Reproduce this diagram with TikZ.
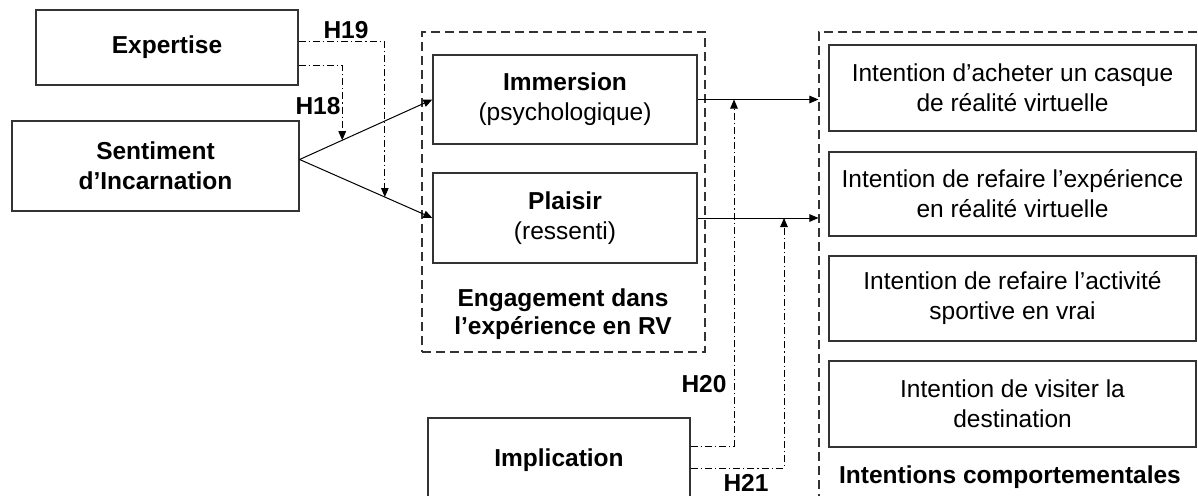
\documentclass[tikz,border=0pt]{standalone}
\usepackage{fontspec}
\setmainfont{Liberation Sans}
\usetikzlibrary{arrows.meta,calc}
\begin{document}
\begin{tikzpicture}[x=1pt,y=-1pt,
  every node/.style={font=\fontsize{24.5}{30}\selectfont, align=center, inner sep=0pt},
  box/.style={draw=black!80, line width=1.2pt, rectangle},
  grp/.style={draw=black!80, line width=1.1pt, dash pattern=on 9pt off 5pt},
  lbl/.style={font=\fontsize{24.5}{28}\selectfont\bfseries},
  link/.style={draw=black, line width=1pt, -{Triangle[length=9pt,width=7.5pt]}},
  hyp/.style={draw=black, line width=1pt, dash pattern=on 7pt off 3pt on 1.2pt off 3pt, -{Triangle[length=9pt,width=7.5pt]}}]
\useasboundingbox (0,0) rectangle (1198,495);
\clip (0,0) rectangle (1198,495);
\fill[white] (0,0) rectangle (1198,495);

% groups
\node[grp, minimum width=283pt, minimum height=320pt] (eng) at (563.5,192) {};
\node[grp, minimum width=390pt, minimum height=480pt] (int) at (1014,272) {};

% boxes
\node[box, minimum width=262pt, minimum height=75pt] (exp) at (167,47.5) {\bfseries Expertise};
\node[box, minimum width=287pt, minimum height=90pt] (sent) at (155.5,166) {\bfseries Sentiment\\\bfseries d’Incarnation};
\node[box, minimum width=264pt, minimum height=89pt] (imm) at (565,99.5) {\bfseries Immersion\\(psychologique)};
\node[box, minimum width=264pt, minimum height=90pt] (pla) at (565,218) {\bfseries Plaisir\\(ressenti)};
\node[box, minimum width=262pt, minimum height=84pt] (imp) at (559,460) {\bfseries Implication};
\node[box, minimum width=367pt, minimum height=86pt] (i1) at (1012.5,88) {Intention d’acheter un casque\\de réalité virtuelle};
\node[box, minimum width=367pt, minimum height=84pt] (i2) at (1012.5,194) {Intention de refaire l’expérience\\en réalité virtuelle};
\node[box, minimum width=367pt, minimum height=85pt] (i3) at (1012.5,298.5) {Intention de refaire l’activité\\sportive en vrai};
\node[box, minimum width=367pt, minimum height=86pt] (i4) at (1012.5,404) {Intention de visiter la\\destination};

% group labels
\node[lbl] (englbl) at (563,314) {Engagement dans\\l’expérience en RV};
\node[lbl] (intlbl) at (1010,477) {Intentions comportementales};

% hypothesis labels
\node[lbl] (h19) at (346,30) {H19};
\node[lbl] (h18) at (318,106) {H18};
\node[lbl] (h20) at (704,384) {H20};
\node[lbl] (h21) at (746,483) {H21};

% main links
\coordinate (s0) at ([yshift=6.5pt]sent.east);
\draw[link] (s0) -- (imm.west);
\draw[link] (s0) -- (pla.west);
\draw[link] (imm.east) -- (int.west |- imm.east);
\draw[link] (pla.east) -- (int.west |- pla.east);

% moderations
\coordinate (h18s) at ([yshift=-17.5pt]exp.east);
\coordinate (h18e) at ($(s0)!{43/134}!(imm.west)$);
\draw[hyp] (h18s) -| (h18e);
\coordinate (h19s) at ([yshift=5.5pt]exp.east);
\coordinate (h19e) at ($(s0)!{86/134}!(pla.west)$);
\draw[hyp] (h19s) -| (h19e);
\coordinate (h20s) at ([yshift=14pt]imp.east);
\coordinate (h20e) at (734,99.5);
\draw[hyp] (h20s) -| (h20e);
\coordinate (h21s) at ([yshift=-8pt]imp.east);
\coordinate (h21e) at (784,218);
\draw[hyp] (h21s) -| (h21e);
\end{tikzpicture}
\end{document}
